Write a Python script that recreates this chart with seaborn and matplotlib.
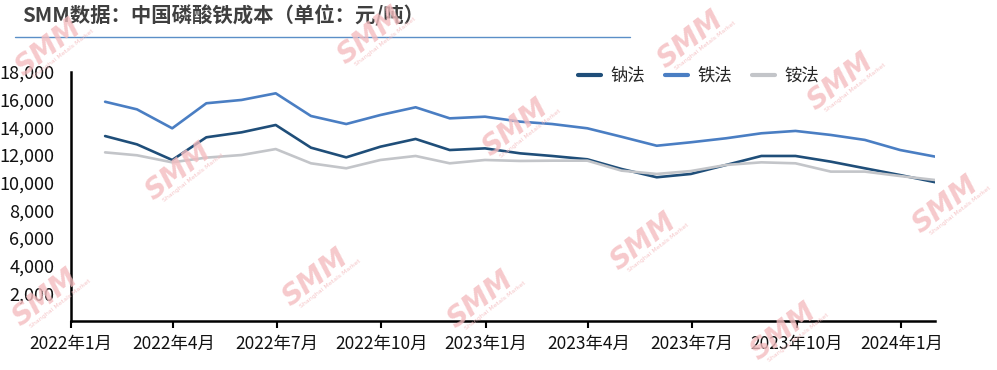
import matplotlib
matplotlib.use("Agg")
import matplotlib.pyplot as plt
import seaborn as sns
import pandas as pd
import numpy as np

# ---------------- data ----------------
dates = pd.date_range("2022-01-31", periods=25, freq="ME")
sodium = [13370, 12770, 11640, 13280, 13640, 14170, 12530, 11830, 12600, 13160, 12360, 12480,
          12120, 11930, 11690, 10990, 10390, 10630, 11280, 11930, 11930, 11520, 11040, 10550, 10030]
iron = [15850, 15300, 13930, 15740, 15980, 16460, 14820, 14240, 14890, 15450, 14650, 14770,
        14410, 14240, 13930, 13320, 12670, 12920, 13210, 13570, 13740, 13450, 13090, 12360, 11880]
ammonium = [12190, 11980, 11470, 11810, 12000, 12430, 11400, 11040, 11640, 11930, 11400, 11640,
            11570, 11590, 11590, 10870, 10630, 10840, 11280, 11470, 11400, 10800, 10800, 10480, 10190]
series_names = ["钠法", "铁法", "铵法"]
tick_dates = pd.to_datetime(["2022-01-01", "2022-04-01", "2022-07-01", "2022-10-01", "2023-01-01",
                             "2023-04-01", "2023-07-01", "2023-10-01", "2024-01-01"])
tick_labels = ["2022年1月", "2022年4月", "2022年7月", "2022年10月", "2023年1月",
               "2023年4月", "2023年7月", "2023年10月", "2024年1月"]
y_ticks = [2000, 4000, 6000, 8000, 10000, 12000, 14000, 16000, 18000]
title = "SMM数据：中国磷酸铁成本（单位：元/吨）"

df = pd.DataFrame({
    "date": np.tile(dates, 3),
    "value": sodium + iron + ammonium,
    "method": np.repeat(series_names, len(dates)),
})

# ---------------- style ----------------
sns.set_theme(style="white")
plt.rcParams["font.family"] = ["Noto Sans CJK SC", "DejaVu Sans"]

palette = {"钠法": "#1f4e79", "铁法": "#4a7ec3", "铵法": "#c3c5c9"}

fig = plt.figure(figsize=(9.97, 3.70), dpi=100)
ax = fig.add_axes([0.0712, 0.1324, 0.867, 0.673])

sns.lineplot(data=df, x="date", y="value", hue="method", palette=palette,
             hue_order=series_names, linewidth=1.9, ax=ax, legend=True)

ax.set_xlim(pd.Timestamp("2022-01-01"), pd.Timestamp("2024-01-31"))
ax.set_ylim(0, 18000)
ax.set_xticks(tick_dates)
ax.set_xticklabels(tick_labels, fontsize=12.5, color="#111111")
ax.set_yticks(y_ticks)
ax.set_yticklabels([f"{v:,}" for v in y_ticks], fontsize=13, color="#111111")
ax.set_xlabel("")
ax.set_ylabel("")

for s in ["top", "right"]:
    ax.spines[s].set_visible(False)
for s in ["left", "bottom"]:
    ax.spines[s].set_color("black")
    ax.spines[s].set_linewidth(1.8)
ax.tick_params(axis="x", direction="out", length=5, width=1.5, color="black", pad=5, bottom=True)
ax.tick_params(axis="y", length=0, pad=12)

leg = ax.legend(loc="center", bbox_to_anchor=(0.726, 0.985), ncol=3, frameon=False,
                fontsize=12.5, handlelength=1.3, columnspacing=1.15, handletextpad=0.55)
for line in leg.get_lines():
    line.set_linewidth(3)

# title and rule
fig.text(0.022, 0.957, title, fontsize=14.7, fontweight="bold", color="#3f3f3f",
         ha="left", va="center")
fig.add_artist(plt.Line2D([0.015, 0.632], [0.9, 0.9], color="#5b8fc7", linewidth=1.0))

# watermarks
wm_centers = [(48, 48), (370, 36), (690, 40), (840, 82), (515, 128), (178, 172), (945, 205),
              (643, 242), (315, 278), (783, 332), (45, 298), (480, 300)]
ang = 38
rad = np.deg2rad(ang)
for (px, py) in wm_centers:
    fx, fy = px / 997, 1 - py / 370
    fig.text(fx, fy, "SMM", fontsize=20, fontweight="bold", style="italic", color="#f4bcbf",
             alpha=0.8, rotation=ang, ha="center", va="center", rotation_mode="anchor",
             family="DejaVu Sans", zorder=10)
    ox = np.sin(rad) * 14 + np.cos(rad) * 8
    oy = -np.cos(rad) * 14 + np.sin(rad) * 8
    fig.text((px + ox) / 997, 1 - (py - oy) / 370, "Shanghai Metals Market", fontsize=4.5,
             color="#f4bcbf", alpha=0.85, rotation=ang, ha="center", va="center",
             rotation_mode="anchor", family="DejaVu Sans", zorder=10)

fig.savefig("out.png", dpi=100)
